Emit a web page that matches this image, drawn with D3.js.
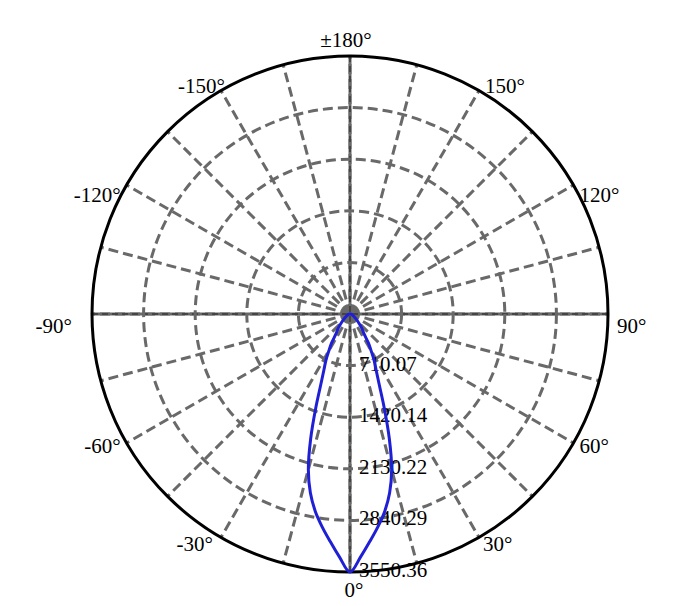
<!DOCTYPE html>
<html>
<head>
<meta charset="utf-8">
<script src="https://cdn.jsdelivr.net/npm/d3@7"></script>
<style>
  html, body { margin: 0; padding: 0; background: #fff; }
  svg { display: block; }
  text { font-family: "Liberation Serif", "Times New Roman", serif; }
</style>
</head>
<body>
<div id="chart"></div>
<script>
// ---- data ----
const ringValues = [710.07, 1420.14, 2130.22, 2840.29, 3550.36];
const ringLabels = ["710.07", "1420.14", "2130.22", "2840.29", "3550.36"];
const angleTicks = [180, 150, 120, 90, 60, 30, 0, -30, -60, -90, -120, -150];
const angleLabels = ["±180°", "150°", "120°", "90°", "60°", "30°", "0°", "-30°", "-60°", "-90°", "-120°", "-150°"];
const beamAngles = [-180, -90, -80, -70, -60, -50, -45, -40, -35, -32.5, -30, -27.5, -25, -22.5, -20, -17.5, -15, -12.5, -10, -7.5, -5, -2.5,
  0, 2.5, 5, 7.5, 10, 12.5, 15, 17.5, 20, 22.5, 25, 27.5, 30, 32.5, 35, 40, 45, 50, 60, 70, 80, 90, 180];
const beamValues = [0, 7, 14, 28, 55, 110, 165, 248, 344, 468, 578, 716, 850, 1050, 1380, 1800, 2215, 2520, 2755, 2950, 3140, 3345,
  3550.36, 3345, 3140, 2950, 2755, 2520, 2215, 1800, 1380, 1050, 850, 716, 578, 468, 344, 248, 165, 110, 55, 28, 14, 7, 0];

// ---- layout ----
const W = 690, H = 606;
const cx = 350, cy = 314, R = 258;
const maxVal = 3550.36;

const svg = d3.select("#chart").append("svg").attr("width", W).attr("height", H);
const g = svg.append("g").attr("transform", `translate(${cx},${cy})`);

const r = d3.scaleLinear().domain([0, maxVal]).range([0, R]);
const toRad = d => (180 - d) * Math.PI / 180; // d3 radial angle: 0 at top, clockwise; 0° data at bottom
const px = (deg, rad) => rad * Math.sin(toRad(deg));
const py = (deg, rad) => -rad * Math.cos(toRad(deg));

const grey = "#696969";

// spokes every 15°
const spokes = d3.range(-165, 181, 15);
g.selectAll("line.spoke").data(spokes).join("line")
  .attr("class", "spoke")
  .attr("x1", 0).attr("y1", 0)
  .attr("x2", d => px(d, R)).attr("y2", d => py(d, R))
  .attr("stroke", grey).attr("stroke-width", 3)
  .attr("stroke-dasharray", "10,5");

// main axes (vertical and horizontal diameters)
[[0, 180], [90, -90]].forEach(([a, b]) => {
  g.append("line")
    .attr("x1", px(a, R)).attr("y1", py(a, R))
    .attr("x2", px(b, R)).attr("y2", py(b, R))
    .attr("stroke", grey).attr("stroke-width", 3);
  g.append("line")
    .attr("x1", px(a, R)).attr("y1", py(a, R))
    .attr("x2", px(b, R)).attr("y2", py(b, R))
    .attr("stroke", "#222").attr("stroke-width", 1)
    .attr("stroke-dasharray", "6,4");
});

// dashed rings
g.selectAll("circle.ring").data(ringValues.slice(0, -1)).join("circle")
  .attr("class", "ring")
  .attr("r", d => r(d))
  .attr("fill", "none")
  .attr("stroke", grey).attr("stroke-width", 3)
  .attr("stroke-dasharray", "10,5");

// outer circle
g.append("circle").attr("r", r(maxVal))
  .attr("fill", "none").attr("stroke", "#000").attr("stroke-width", 3);

// ring labels along 0° direction
g.selectAll("text.rl").data(ringValues).join("text")
  .attr("class", "rl")
  .attr("x", 9)
  .attr("y", d => r(d) + 5)
  .attr("font-size", 21)
  .attr("fill", "#000")
  .text((d, i) => ringLabels[i]);

// angle label placement offsets (layout only), keyed by |angle|
const labelDy = {0: 25, 30: 14, 60: 10, 90: 19, 120: 17, 150: 2, 180: -9};
const labelPadPos = {30: 4, 60: 6, 90: 9, 120: 6, 150: 6};
const labelPadNeg = {30: -8, 60: -6, 90: -20, 120: -6, 150: 4};

g.selectAll("text.al").data(angleTicks).join("text")
  .attr("class", "al")
  .attr("font-size", 21)
  .attr("fill", "#000")
  .attr("text-anchor", d => (d === 0 || d === 180) ? "middle" : (d > 0 ? "start" : "end"))
  .attr("x", d => {
    const x = px(d, R);
    if (d === 0) return x + 4;
    if (d === 180) return x - 4;
    return d > 0 ? x + labelPadPos[d] : x + labelPadNeg[-d];
  })
  .attr("y", d => py(d, R) + labelDy[Math.abs(d)])
  .text((d, i) => angleLabels[i]);

// intensity curve
const pts = beamAngles.map((a, i) => [toRad(a), r(beamValues[i])]);
const line = d3.lineRadial().curve(d3.curveCatmullRom.alpha(0.5));
g.append("path")
  .attr("d", line(pts))
  .attr("fill", "none")
  .attr("stroke", "#1f1fd6")
  .attr("stroke-width", 3)
  .attr("stroke-linejoin", "round");
</script>
</body>
</html>
